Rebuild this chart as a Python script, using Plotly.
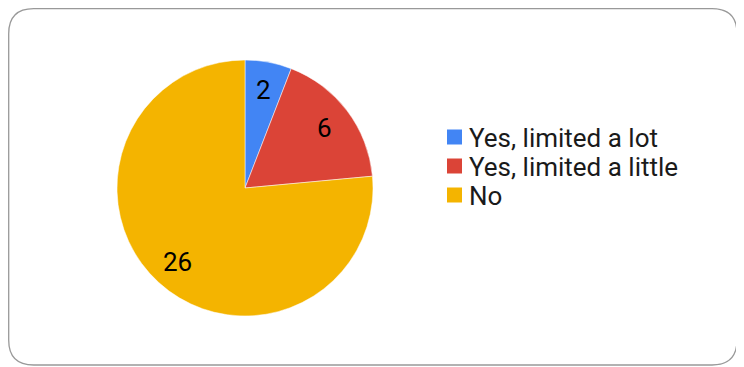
import math
import plotly.graph_objects as go

labels = ["Yes, limited a lot", "Yes, limited a little", "No"]
values = [2, 6, 26]
colors = ["#4285F4", "#DB4437", "#F4B400"]

# the page body adds an 8px offset, so the figure is drawn 8px smaller
OFF = 8
W, H = 744 - OFF, 367 - OFF
cx, cy, r = 245 - OFF, 188 - OFF, 128
FONT = "Roboto, Arial, sans-serif"
FS = 26

def px(x): return x / W
def py(y): return 1 - y / H

fig = go.Figure()
fig.add_trace(go.Pie(
    labels=labels, values=values, sort=False, direction="clockwise", rotation=0,
    marker=dict(colors=colors, line=dict(color="white", width=0.5)),
    textinfo="none", showlegend=False,
    domain=dict(x=[px(cx - r), px(cx + r)], y=[py(cy + r), py(cy - r)]),
    hoverinfo="label+value",
))

# value labels placed at the middle angle of each slice, ~0.78 of the radius
total = sum(values)
cum = 0
for v in values:
    mid = (cum + v / 2) / total * 2 * math.pi
    cum += v
    lx = cx + 0.78 * r * math.sin(mid)
    ly = cy - 0.78 * r * math.cos(mid)
    fig.add_annotation(x=px(lx), y=py(ly), xref="paper", yref="paper",
                       text=str(v), showarrow=False,
                       font=dict(family=FONT, size=FS, color="black"),
                       xanchor="center", yanchor="middle")

# legend built from the labels / colors
lg_x, lg_y0, lg_dy, sq = 447 - OFF, 137 - OFF, 29, 15
for i, (lab, col) in enumerate(zip(labels, colors)):
    yc = lg_y0 + i * lg_dy
    fig.add_shape(type="rect", xref="paper", yref="paper",
                  x0=px(lg_x), x1=px(lg_x + sq), y0=py(yc + sq / 2), y1=py(yc - sq / 2),
                  fillcolor=col, line=dict(width=0))
    fig.add_annotation(x=px(lg_x + sq + 5), y=py(yc + 1), xref="paper", yref="paper",
                       text=lab, showarrow=False, xanchor="left", yanchor="middle",
                       font=dict(family=FONT, size=FS, color="#1a1a1a"))

# rounded border
x0, y0, x1, y1, rr = 0.7, 0.7, 737 - OFF, 365 - OFF, 25
path = (f"M {px(x0+rr)},{py(y0)} L {px(x1-rr)},{py(y0)} "
        f"Q {px(x1)},{py(y0)} {px(x1)},{py(y0+rr)} L {px(x1)},{py(y1-rr)} "
        f"Q {px(x1)},{py(y1)} {px(x1-rr)},{py(y1)} L {px(x0+rr)},{py(y1)} "
        f"Q {px(x0)},{py(y1)} {px(x0)},{py(y1-rr)} L {px(x0)},{py(y0+rr)} "
        f"Q {px(x0)},{py(y0)} {px(x0+rr)},{py(y0)} Z")
fig.add_shape(type="path", xref="paper", yref="paper", path=path,
              line=dict(color="#999999", width=1.3), layer="below")

fig.update_layout(
    width=W, height=H, margin=dict(l=0, r=0, t=0, b=0),
    paper_bgcolor="white", plot_bgcolor="white",
    font=dict(family=FONT, size=FS, color="black"),
    showlegend=False,
)
fig.write_html("out.html")
